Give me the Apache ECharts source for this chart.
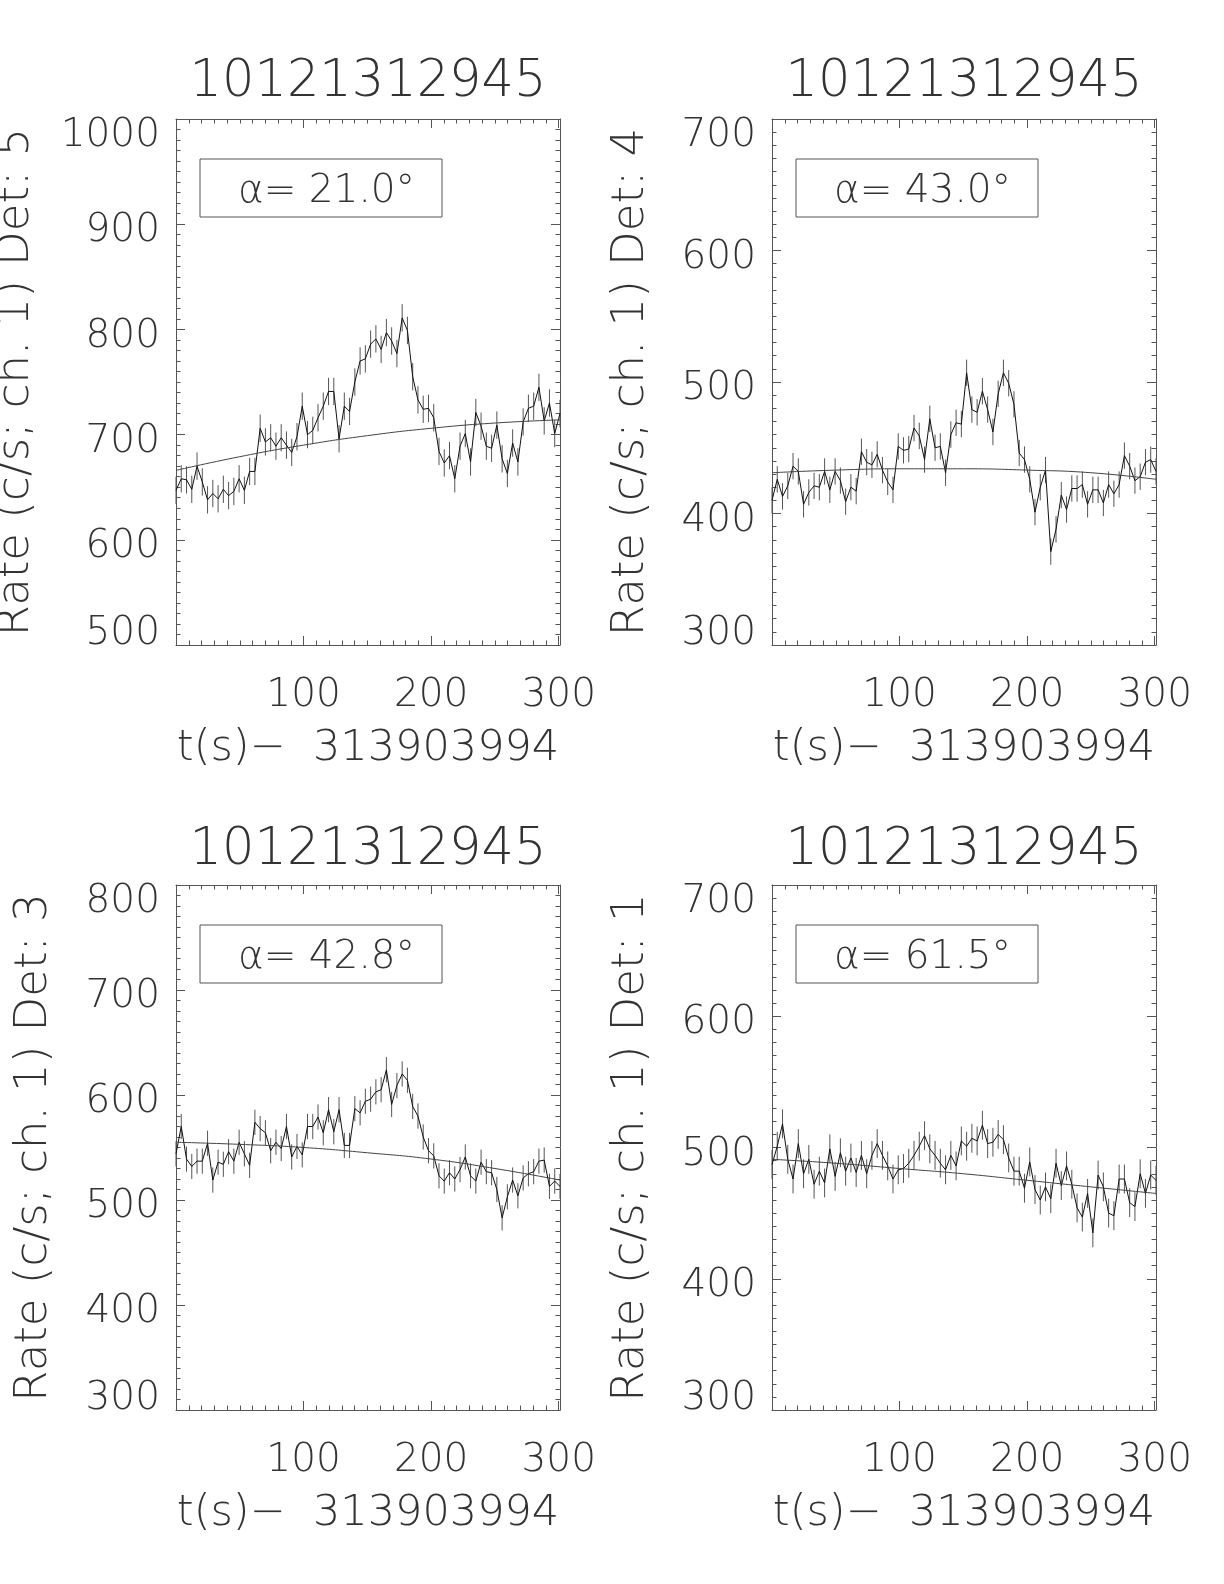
<!DOCTYPE html>
<html>
<head>
<meta charset="utf-8">
<script src="https://cdn.jsdelivr.net/npm/echarts@6/dist/echarts.min.js"></script>
<style>
  html, body { margin: 0; padding: 0; background: #fff; }
  #chart { width: 1224px; height: 1584px; }
</style>
</head>
<body>
<div id="chart"></div>
<script>
// burst id and time origin
const burstId = '10121312945';
const xTitle = 't(s)\u2212  313903994';
// 74 bins over the 0..301 s axis
const tStart = 0;
const tStep = 4.123;

// count rates (c/s, channel 1) per detector
const rateDet5 = [
  647, 658, 657, 648, 670, 655, 638, 644, 639, 648,
  642, 646, 658, 647, 665, 665, 706, 693, 697, 689,
  697, 690, 683, 698, 727, 700, 704, 716, 727, 741,
  741, 696, 727, 722, 750, 770, 772, 786, 791, 781,
  797, 789, 777, 811, 799, 755, 733, 724, 725, 716,
  684, 673, 680, 658, 689, 701, 674, 721, 708, 689,
  687, 709, 677, 663, 692, 674, 712, 725, 727, 745,
  713, 730, 701, 720
];
const rateDet4 = [
  410, 426, 413, 421, 436, 432, 407, 416, 421, 420,
  432, 418, 432, 425, 409, 420, 417, 447, 439, 437,
  445, 433, 424, 418, 451, 448, 449, 465, 459, 441,
  472, 450, 451, 431, 460, 469, 468, 507, 479, 477,
  493, 479, 462, 491, 507, 499, 483, 446, 441, 426,
  401, 420, 433, 371, 388, 414, 403, 419, 419, 422,
  407, 418, 418, 408, 422, 415, 422, 444, 436, 425,
  428, 439, 441, 432
];
const rateDet3 = [
  544, 570, 539, 532, 537, 537, 554, 519, 536, 534,
  546, 537, 555, 544, 533, 574, 568, 564, 547, 555,
  549, 570, 541, 551, 543, 570, 570, 579, 564, 586,
  565, 586, 552, 552, 587, 583, 594, 596, 603, 605,
  624, 591, 609, 620, 614, 589, 580, 560, 547, 542,
  523, 518, 526, 520, 529, 541, 523, 518, 536, 527,
  526, 510, 483, 503, 519, 504, 521, 525, 527, 537,
  538, 513, 518, 513
];
const rateDet1 = [
  487, 501, 518, 491, 476, 503, 480, 491, 472, 482,
  473, 499, 478, 496, 482, 492, 481, 494, 480, 494,
  503, 494, 486, 476, 483, 484, 488, 494, 501, 509,
  499, 494, 488, 483, 494, 486, 505, 501, 507, 505,
  517, 503, 504, 510, 506, 492, 482, 482, 469, 489,
  468, 460, 470, 461, 488, 471, 486, 472, 454, 447,
  465, 435, 479, 470, 450, 448, 476, 476, 458, 455,
  480, 465, 479, 475
];

// background fit, sampled at a few times
const bgTimes = [0, 50, 100, 150, 200, 250, 301];
const bgDet5 = [666, 679, 690, 699, 706, 711, 714];
const bgDet4 = [431, 433, 434, 434, 433, 431, 426];
const bgDet3 = [555, 553, 550, 545, 539, 530, 519];
const bgDet1 = [491, 488, 484, 480, 475, 470, 465];

// error bar half heights
const errDet5 = 13;
const errDet4 = 10;
const errDet3 = 12;
const errDet1 = 11;

// y ranges and angle labels
const yRangeDet5 = [500, 1000];
const yRangeDet4 = [300, 700];
const yRangeDet3 = [300, 800];
const yRangeDet1 = [300, 700];
const alphaDet5 = '21.0';
const alphaDet4 = '43.0';
const alphaDet3 = '42.8';
const alphaDet1 = '61.5';
const xTicks = [100, 200, 300];

const FONT = "'DejaVu Sans', sans-serif";
const FW = 200;
const INK = '#333';
const AXIS = '#555';

const panels = [
  { det: 5, rate: rateDet5, bg: bgDet5, err: errDet5, yr: yRangeDet5, alpha: alphaDet5, left: 176, top: 119, h: 526, gap: 137, tOff: 36 },
  { det: 4, rate: rateDet4, bg: bgDet4, err: errDet4, yr: yRangeDet4, alpha: alphaDet4, left: 772, top: 119, h: 526, gap: 118, tOff: 36 },
  { det: 3, rate: rateDet3, bg: bgDet3, err: errDet3, yr: yRangeDet3, alpha: alphaDet3, left: 176, top: 885, h: 525, gap: 119, tOff: 34 },
  { det: 1, rate: rateDet1, bg: bgDet1, err: errDet1, yr: yRangeDet1, alpha: alphaDet1, left: 772, top: 885, h: 525, gap: 118, tOff: 34 }
];
const W = 384;

const times = rateDet5.map((_, i) => tStart + i * tStep);

const tickFont = { fontFamily: FONT, fontWeight: FW, fontSize: 39, color: INK };

let grid = [], xAxis = [], yAxis = [], series = [], graphic = [];

panels.forEach((p, k) => {
  grid.push({ left: p.left, top: p.top, width: W, height: p.h, outerBoundsMode: 'none', containLabel: false });

  const xBase = {
    type: 'value', gridIndex: k, min: 0, max: 301, interval: 100,
    axisLine: { show: true, onZero: false, lineStyle: { color: AXIS, width: 1 } },
    axisTick: { show: true, inside: true, length: 9, lineStyle: { color: AXIS } },
    minorTick: { show: true, splitNumber: 10, length: 4.5, lineStyle: { color: AXIS } },
    splitLine: { show: false }
  };
  xAxis.push(Object.assign({}, xBase, {
    position: 'bottom',
    name: xTitle, nameLocation: 'middle', nameGap: 82,
    nameTextStyle: { fontFamily: FONT, fontWeight: FW, fontSize: 43, color: INK },
    axisLabel: Object.assign({
      show: true, margin: 31,
      formatter: v => xTicks.indexOf(v) >= 0 ? String(v) : ''
    }, tickFont)
  }));
  xAxis.push(Object.assign({}, xBase, { position: 'top', axisLabel: { show: false } }));

  const yBase = {
    type: 'value', gridIndex: k, min: p.yr[0], max: p.yr[1], interval: 100,
    axisLine: { show: true, onZero: false, lineStyle: { color: AXIS, width: 1 } },
    axisTick: { show: true, inside: true, length: 9, lineStyle: { color: AXIS } },
    minorTick: { show: true, splitNumber: 10, length: 4.5, lineStyle: { color: AXIS } },
    splitLine: { show: false }
  };
  yAxis.push(Object.assign({}, yBase, {
    position: 'left',
    name: 'Rate (c/s; ch. 1) Det: ' + p.det, nameLocation: 'middle', nameGap: p.gap, nameRotate: 90,
    nameTextStyle: { fontFamily: FONT, fontWeight: FW, fontSize: 45, color: INK },
    axisLabel: Object.assign({
      show: true, margin: 16,
      // end labels sit inside the box, the others a little below their tick
      formatter: v => v === p.yr[1] ? '{hi|' + v + '}' : v === p.yr[0] ? '{lo|' + v + '}' : '{mid|' + v + '}',
      rich: {
        hi: Object.assign({ padding: [34, 0, 0, 0] }, tickFont),
        mid: Object.assign({ padding: [14, 0, 0, 0] }, tickFont),
        lo: Object.assign({ padding: [0, 0, 22, 0] }, tickFont)
      }
    }, tickFont)
  }));
  yAxis.push(Object.assign({}, yBase, { position: 'right', axisLabel: { show: false } }));

  const pts = p.rate.map((v, i) => [times[i], v]);
  series.push({
    type: 'custom', xAxisIndex: 2 * k, yAxisIndex: 2 * k, silent: true, z: 2,
    renderItem: (params, api) => {
      const t = api.value(0), v = api.value(1);
      const a = api.coord([t, v - p.err]);
      const b = api.coord([t, v + p.err]);
      return { type: 'line', shape: { x1: a[0], y1: a[1], x2: b[0], y2: b[1] },
        style: { stroke: '#555', lineWidth: 1 } };
    },
    data: pts
  });
  series.push({
    type: 'line', xAxisIndex: 2 * k, yAxisIndex: 2 * k, data: pts,
    showSymbol: false, silent: true, z: 3,
    lineStyle: { color: '#111', width: 1 }
  });
  series.push({
    type: 'line', xAxisIndex: 2 * k, yAxisIndex: 2 * k,
    data: bgTimes.map((t, j) => [t, p.bg[j]]),
    smooth: true, showSymbol: false, silent: true, z: 3,
    lineStyle: { color: '#444', width: 1 }
  });

  // panel title
  graphic.push({
    type: 'text', x: p.left + W / 2, y: p.top - p.tOff, silent: true,
    style: { text: burstId, fontFamily: FONT, fontWeight: FW, fontSize: 51, fill: INK,
      textAlign: 'center', textVerticalAlign: 'middle' }
  });
  // angle box
  graphic.push({
    type: 'rect', silent: true,
    shape: { x: p.left + 24, y: p.top + 40, width: 242, height: 58 },
    style: { fill: 'none', stroke: AXIS, lineWidth: 1 }
  });
  graphic.push({
    type: 'text', x: p.left + 62, y: p.top + 73, silent: true,
    style: {
      text: '\u03b1= ' + p.alpha + '\u00b0',
      fontFamily: FONT, fontWeight: FW, fontSize: 39, fill: INK,
      textAlign: 'left', textVerticalAlign: 'middle'
    }
  });
});

const chart = echarts.init(document.getElementById('chart'));
chart.setOption({
  animation: false,
  backgroundColor: '#fff',
  grid, xAxis, yAxis, series, graphic
});
</script>
</body>
</html>
